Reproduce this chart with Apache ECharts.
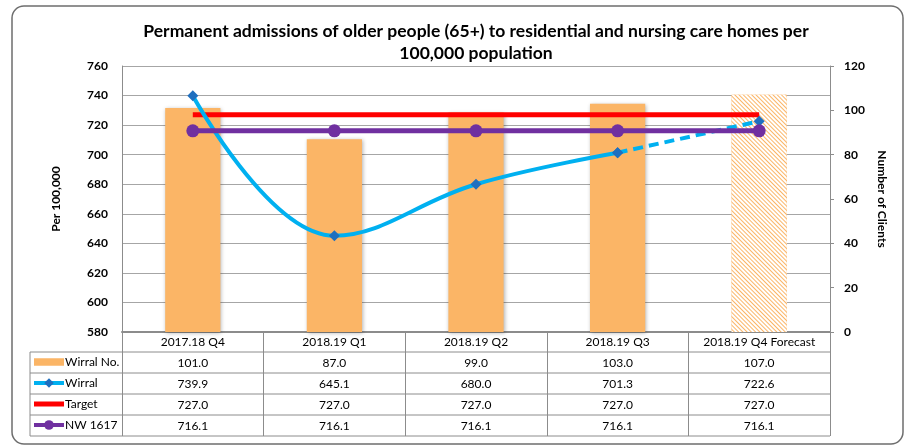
<!DOCTYPE html>
<html>
<head>
<meta charset="utf-8">
<script src="https://cdn.jsdelivr.net/npm/echarts@6/dist/echarts.min.js"></script>
<style>
  html, body { margin: 0; padding: 0; background: #fff; }
  #main { width: 908px; height: 448px; }
</style>
</head>
<body>
<div id="main"></div>
<script>
// chart data
var categories = ['2017.18 Q4', '2018.19 Q1', '2018.19 Q2', '2018.19 Q3', '2018.19 Q4 Forecast'];
var wirralNo = [101.0, 87.0, 99.0, 103.0, 107.0];
var wirral = [739.9, 645.1, 680.0, 701.3, 722.6];
var target = [727.0, 727.0, 727.0, 727.0, 727.0];
var nw1617 = [716.1, 716.1, 716.1, 716.1, 716.1];

// layout bits
var gLeft = 122, gRight = 830, gTop = 66, gBottom = 332;
var rowH = 21, headH = 20, tableLeft = 30;
var font = 'Lato, "Open Sans", sans-serif';

var chart = echarts.init(document.getElementById('main'));

// wirral line: solid for actuals, dashed for the forecast part
var wirralSolid = wirral.map(function (v, i) { return i < wirral.length - 1 ? v : '-'; });
var wirralDash = wirral.map(function (v, i) { return i >= wirral.length - 2 ? v : '-'; });

var barData = wirralNo.map(function (v, i) {
    if (i === wirralNo.length - 1) {
        // forecast bar is hatched
        return {
            value: v,
            itemStyle: {
                color: '#fbb566',
                shadowBlur: 0,
                shadowOffsetX: 0,
                shadowOffsetY: 0,
                shadowColor: 'rgba(0,0,0,0)',
                decal: {
                    symbol: 'rect',
                    symbolSize: 1,
                    dashArrayX: [[1, 0]],
                    dashArrayY: [1, 2],
                    rotation: Math.PI / 4,
                    color: '#fbb566',
                    backgroundColor: '#fff'
                }
            }
        };
    }
    return v;
});

// table lines
var tableLines = [];
for (var k = 0; k < 5; k++) {
    var y = gBottom + headH + rowH * k;
    tableLines.push({ type: 'line', shape: { x1: tableLeft, y1: y, x2: gRight, y2: y }, style: { stroke: '#8c8c8c', lineWidth: 1 }, z: 10 });
}
tableLines.push({ type: 'line', shape: { x1: tableLeft, y1: gBottom + headH, x2: tableLeft, y2: gBottom + headH + rowH * 4 }, style: { stroke: '#8c8c8c', lineWidth: 1 }, z: 10 });
tableLines.push({ type: 'rect', shape: { x: 12, y: 6, width: 891, height: 438, r: 12 }, style: { fill: 'none', stroke: '#6e6e6e', lineWidth: 1.5 }, z: 10 });

var option = {
    backgroundColor: '#fff',
    animation: false,
    textStyle: { fontFamily: font },
    title: {
        text: 'Permanent admissions of older people (65+) to residential and nursing care homes per\n100,000 population',
        left: 471,
        textAlign: 'center',
        top: 15,
        textStyle: { fontSize: 17.5, fontWeight: 'bold', color: '#000', lineHeight: 22, fontFamily: font }
    },
    legend: {
        orient: 'vertical',
        left: 32,
        top: 356,
        padding: 0,
        itemWidth: 30,
        itemHeight: 12,
        itemGap: 9,
        lineStyle: { width: 4 },
        textStyle: { fontSize: 12, color: '#000', padding: [0, 0, 0, -4] },
        data: [
            { name: 'Wirral No.', icon: 'path://M0,0h28v7h-28z' },
            'Wirral',
            { name: 'Target', icon: 'path://M0,0h30v5h-30z' },
            'NW 1617'
        ]
    },
    grid: { left: gLeft, right: 908 - gRight, top: gTop, bottom: 448 - gBottom },
    xAxis: {
        type: 'category',
        data: categories,
        axisLine: { lineStyle: { color: '#8c8c8c', width: 2 } },
        axisTick: { show: true, length: headH + rowH * 4, lineStyle: { color: '#8c8c8c' } },
        axisLabel: {
            margin: 0,
            color: '#000',
            fontSize: 12,
            lineHeight: rowH,
            interval: 0,
            formatter: function (v, i) {
                return [v, wirralNo[i].toFixed(1), wirral[i].toFixed(1), target[i].toFixed(1), nw1617[i].toFixed(1)].join('\n');
            }
        }
    },
    yAxis: [
        {
            type: 'value',
            min: 580,
            max: 760,
            interval: 20,
            name: 'Per 100,000',
            nameLocation: 'middle',
            nameGap: 60,
            nameRotate: 90,
            nameTextStyle: { fontSize: 12, fontWeight: 'bold', color: '#000' },
            axisLine: { show: true, lineStyle: { color: '#8c8c8c' } },
            axisTick: { show: false },
            axisLabel: { fontSize: 12, fontWeight: 'bold', color: '#000', margin: 14 },
            splitLine: { lineStyle: { color: '#a6a6a6' } }
        },
        {
            type: 'value',
            min: 0,
            max: 120,
            interval: 20,
            name: 'Number of Clients',
            nameLocation: 'middle',
            nameGap: 44,
            nameRotate: -90,
            nameTextStyle: { fontSize: 12, fontWeight: 'bold', color: '#000' },
            axisLine: { show: true, lineStyle: { color: '#8c8c8c' } },
            axisTick: { show: true, length: 4, lineStyle: { color: '#8c8c8c' } },
            axisLabel: { fontSize: 12, fontWeight: 'bold', color: '#000', margin: 14 },
            splitLine: { show: false }
        }
    ],
    series: [
        {
            name: 'Wirral No.',
            type: 'bar',
            yAxisIndex: 1,
            barWidth: '39%',
            data: barData,
            itemStyle: { color: '#fbb566', shadowBlur: 4, shadowColor: 'rgba(0,0,0,0.3)', shadowOffsetX: 1, shadowOffsetY: 1 },
            z: 1
        },
        {
            name: 'Wirral',
            type: 'line',
            smooth: 0.4,
            data: wirralSolid,
            symbol: 'diamond',
            symbolSize: 11,
            lineStyle: { color: '#00b0f0', width: 4 },
            itemStyle: { color: '#1f6fbf' },
            z: 5
        },
        {
            name: 'Wirral',
            type: 'line',
            data: wirralDash,
            symbol: 'diamond',
            symbolSize: 11,
            lineStyle: { color: '#00b0f0', width: 4, type: [10, 6] },
            itemStyle: { color: '#1f6fbf' },
            z: 5
        },
        {
            name: 'Target',
            type: 'line',
            data: target,
            symbol: 'none',
            lineStyle: { color: '#ff0000', width: 5 },
            itemStyle: { color: '#ff0000' },
            z: 4
        },
        {
            name: 'NW 1617',
            type: 'line',
            data: nw1617,
            symbol: 'circle',
            symbolSize: 13,
            lineStyle: { color: '#7030a0', width: 5 },
            itemStyle: { color: '#7030a0' },
            z: 6
        }
    ],
    graphic: tableLines
};

chart.setOption(option);
</script>
</body>
</html>
